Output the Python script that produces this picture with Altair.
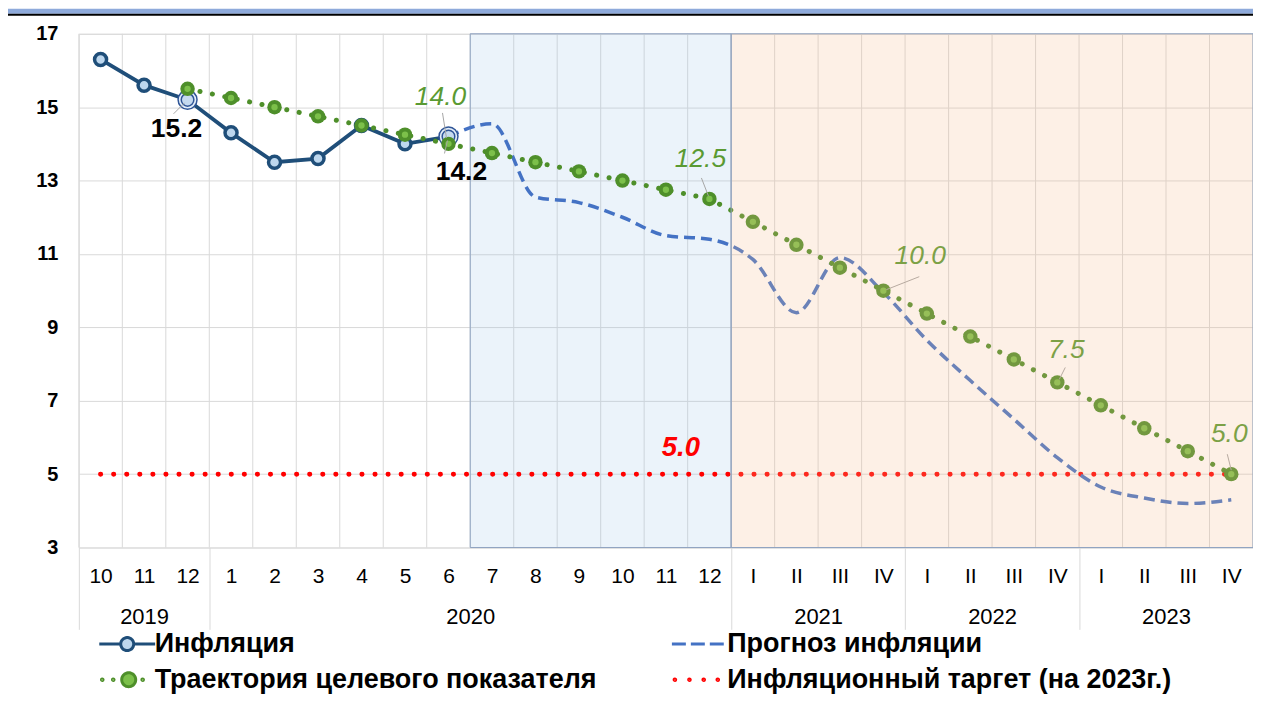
import json
import altair as alt
import pandas as pd

FONT = "Liberation Sans"

# ---------------- data ----------------
x_labels = ["10", "11", "12", "1", "2", "3", "4", "5", "6", "7", "8", "9", "10", "11", "12",
            "I", "II", "III", "IV", "I", "II", "III", "IV", "I", "II", "III", "IV"]
years = ["2019", "2020", "2021", "2022", "2023"]
year_first_idx = [0, 3, 15, 19, 23]          # first category of each year
year_last_idx = [2, 14, 18, 22, 26]          # last category of each year

inflation_start = 0
inflation = [16.3, 15.6, 15.2, 14.3, 13.5, 13.6, 14.5, 14.0, 14.2]

trajectory_start = 2
trajectory = [15.5, 15.25, 15.0, 14.75, 14.5, 14.25, 14.0, 13.75, 13.5, 13.25, 13.0, 12.75, 12.5,
              11.875, 11.25, 10.625, 10.0, 9.375, 8.75, 8.125, 7.5, 6.875, 6.25, 5.625, 5.0]

forecast_start = 8
forecast = [14.2, 14.55, 12.55, 12.4, 12.0, 11.5, 11.4, 10.85, 9.4, 10.9, 9.95, 8.65, 7.55,
            6.5, 5.45, 4.65, 4.35, 4.2, 4.3]

target_value = 5.0

# legend order (column-major: left column first)
series_names = ["Инфляция", "Траектория целевого показателя", "Прогноз инфляции",
                "Инфляционный таргет (на 2023г.)"]

blue_region = (9, 15)     # category index range (7..12 of 2020)
peach_region = (15, 27)   # 2021..2023 quarters

y_ticks = [3, 5, 7, 9, 11, 13, 15, 17]
Y_MIN, Y_MAX = 3, 17
N = len(x_labels)

# ---------------- frames ----------------
def centers(start, n):
    return [start + i + 0.5 for i in range(n)]

infl_df = pd.DataFrame({"x": centers(inflation_start, len(inflation)), "y": inflation})
traj_df = pd.DataFrame({"x": centers(trajectory_start, len(trajectory)), "y": trajectory})
fc_df = pd.DataFrame({"x": centers(forecast_start, len(forecast)), "y": forecast})
hl_idx = [2, 8]
hl_df = pd.DataFrame({"x": [i + 0.5 for i in hl_idx], "y": [inflation[i - inflation_start] for i in hl_idx]})
grid_df = pd.DataFrame({"b": list(range(N + 1)), "lo": Y_MIN, "hi": Y_MAX})
tgt_df = pd.DataFrame({"x": [0.5], "x2": [N - 0.5], "y": [target_value]})
blue_df = pd.DataFrame({"a": [blue_region[0]], "b": [blue_region[1]], "lo": [Y_MIN], "hi": [Y_MAX]})
peach_df = pd.DataFrame({"a": [peach_region[0]], "b": [peach_region[1]], "lo": [Y_MIN], "hi": [Y_MAX]})
year_centers = [(f + l + 1) / 2 for f, l in zip(year_first_idx, year_last_idx)]
year_df = pd.DataFrame({"c": year_centers})
sep_values = [0] + [l + 1 for l in year_last_idx]
sep_df = pd.DataFrame({"b": sep_values})
legend_df = pd.DataFrame({"series": series_names})

# ---------------- scales / axes ----------------
xscale = alt.Scale(domain=[0, N], nice=False, zero=False)
yscale = alt.Scale(domain=[Y_MIN, Y_MAX], nice=False, zero=False)

x_axis = alt.Axis(values=[i + 0.5 for i in range(N)],
                  labelExpr=f"{json.dumps(x_labels)}[floor(datum.value)]",
                  grid=False, ticks=False, domain=False, labelFontSize=21, labelColor="#000000",
                  labelPadding=18, title=None, labelFlush=False, labelOverlap=False, labelFont=FONT)
y_axis = alt.Axis(values=y_ticks, grid=True, gridColor="#D9D9D9", gridWidth=1, ticks=False,
                  domain=False, labelFontSize=20, labelFontWeight="bold", labelColor="#000000",
                  labelPadding=21, title=None, labelFont=FONT)

X = lambda f: alt.X(f, type="quantitative", scale=xscale, axis=x_axis)
Y = lambda f: alt.Y(f, type="quantitative", scale=yscale, axis=y_axis)

base = lambda df: alt.Chart(df)

layers = []
# vertical grid lines at category boundaries
layers.append(base(grid_df).mark_rule(color="#D9D9D9", strokeWidth=1).encode(
    x=X("b"), y=Y("lo"), y2="hi"))
# blue (2020 H2) region
layers.append(base(blue_df).mark_rect(fill="#9DC3E6", fillOpacity=0.2, stroke="#8FA3C0",
                                      strokeWidth=1).encode(x=X("a"), x2="b", y=Y("lo"), y2="hi"))
# target line
layers.append(base(tgt_df).mark_rule(color="#FF0000", strokeWidth=5, strokeDash=[0.1, 13],
                                     strokeCap="round").encode(x=X("x"), x2="x2", y=Y("y")))
# inflation line
layers.append(base(infl_df).mark_line(color="#1F4E79", strokeWidth=3.8).encode(x=X("x"), y=Y("y")))
# forecast
layers.append(base(fc_df).mark_line(color="#4472C4", strokeWidth=3.5, strokeDash=[11, 6],
                                    interpolate="monotone").encode(x=X("x"), y=Y("y")))
# inflation markers
layers.append(base(infl_df).mark_point(shape="circle", size=145, filled=False, fill="#BDD7EE",
                                       fillOpacity=1, stroke="#1F4E79", strokeWidth=3.5, opacity=1)
              .encode(x=X("x"), y=Y("y")))
layers.append(base(hl_df).mark_point(shape="circle", size=360, filled=False, fill="#E3EEF9",
                                     fillOpacity=1, stroke="#2F5597", strokeWidth=1.5, opacity=1)
              .encode(x=X("x"), y=Y("y")))
layers.append(base(hl_df).mark_point(shape="circle", size=160, filled=False, fill="#C5DAF0",
                                     fillOpacity=1, stroke="#2F5597", strokeWidth=1.5, opacity=1)
              .encode(x=X("x"), y=Y("y")))
# trajectory
layers.append(base(traj_df).mark_line(color="#4E8F2A", strokeWidth=5, strokeDash=[0.1, 12.6],
                                      strokeCap="round").encode(x=X("x"), y=Y("y")))
layers.append(base(traj_df).mark_point(shape="circle", size=210, filled=True, color="#4E8F2A",
                                       opacity=1).encode(x=X("x"), y=Y("y")))
layers.append(base(traj_df).mark_point(shape="circle", size=40, filled=True, color="#7CC04A",
                                       opacity=1).encode(x=X("x"), y=Y("y")))

# annotations: (x index, value, color, style, weight, size, dx, dy, leader offsets)
GREEN_TXT = "#5A9A32"
annots = [
    (2, inflation[2 - inflation_start], "#000000", "normal", "bold", 26.5, -11, 29, (-14, 14, -3, 3)),
    (8, inflation[8 - inflation_start], "#000000", "normal", "bold", 26.5, 13, 36, (-4, 17, -1, 4)),
    (8, trajectory[8 - trajectory_start], GREEN_TXT, "italic", "normal", 26.5, -8, -47, (-6, -31, -2, -6)),
    (14, trajectory[14 - trajectory_start], GREEN_TXT, "italic", "normal", 26.5, -9, -40, (-8, -21, -1, -3)),
    (18, trajectory[18 - trajectory_start], GREEN_TXT, "italic", "normal", 26.5, 37, -35, (36, -14, 3, -1)),
    (22, trajectory[22 - trajectory_start], GREEN_TXT, "italic", "normal", 26.5, 9, -32, (8, -15, 2, -3)),
    (26, trajectory[26 - trajectory_start], GREEN_TXT, "italic", "normal", 26.5, -2, -40, (-4, -20, 0, -4)),
    (13, target_value, "#FF0000", "italic", "bold", 27.5, 15, -26, None),
]
for idx, val, col, style, weight, size, dx, dy, lead in annots:
    df = pd.DataFrame({"x": [idx + 0.5], "y": [val], "t": [f"{val:.1f}"]})
    if lead is not None:
        layers.append(base(df).mark_rule(color="#A6A6A6", strokeWidth=1, xOffset=lead[0],
                                         yOffset=lead[1], x2Offset=lead[2], y2Offset=lead[3])
                      .encode(x=X("x"), x2="x", y=Y("y"), y2="y"))
    layers.append(base(df).mark_text(color=col, fontStyle=style, fontWeight=weight, fontSize=size,
                                     font=FONT, dx=dx, dy=dy, align="center", baseline="middle")
                  .encode(x=X("x"), y=Y("y"), text="t:N"))

# peach region overlay (on top)
layers.append(base(peach_df).mark_rect(fill="#F6BB8D", fillOpacity=0.22, stroke="#8FA3C0",
                                       strokeWidth=1).encode(x=X("a"), x2="b", y=Y("lo"), y2="hi"))

# decorative title band (cut-off header of the original)
band_df = pd.DataFrame({"k": [0]})
layers.append(base(band_df).mark_rect(fill="#8EAADB").encode(
    x=alt.value(-71), x2=alt.value(1177), y=alt.value(-25), y2=alt.value(-20)))
layers.append(base(band_df).mark_rect(fill="#000000").encode(
    x=alt.value(-71), x2=alt.value(1177), y=alt.value(-20), y2=alt.value(-18)))

# legend (driven by series names); symbol unit = 10 px (symbolSize 400)
def circ(cx, r):
    return (f"M{cx + r:.3f},0A{r},{r},0,1,1,{cx - r:.3f},0"
            f"A{r},{r},0,1,1,{cx + r:.3f},0Z")

shape_inf = "M-2.8,0L-0.65,0M0.65,0L2.8,0" + circ(0, 0.65)
shape_fc = "M-2.8,0L2.8,0"
shape_traj = circ(-2.5, 0.08) + circ(-1.4, 0.08) + circ(1.55, 0.08) + circ(0.15, 0.7)
shape_tgt = circ(-2.5, 0.08) + circ(-1.04, 0.08) + circ(0.39, 0.08) + circ(1.8, 0.08)

leg = alt.Legend(title=None, orient="none", legendX=35, legendY=598, columns=2,
                 columnPadding=68, rowPadding=8, symbolSize=400, symbolStrokeWidth=3,
                 symbolOpacity=1, labelFontSize=27, labelFontWeight="bold", labelColor="#000000",
                 labelFont=FONT, labelOffset=14, labelLimit=700, padding=0)
layers.append(base(legend_df).transform_filter("false").mark_point(filled=False, opacity=1).encode(
    fill=alt.Fill("series:N", scale=alt.Scale(domain=series_names,
                                              range=["#BDD7EE", "#7CC04A", "transparent", "#FF0000"]),
                  legend=leg),
    stroke=alt.Stroke("series:N", scale=alt.Scale(domain=series_names,
                                                  range=["#1F4E79", "#4E8F2A", "#4472C4", "#FF0000"]),
                      legend=leg),
    shape=alt.Shape("series:N", scale=alt.Scale(domain=series_names,
                                                range=[shape_inf, shape_traj, shape_fc, shape_tgt]),
                    legend=leg),
    strokeDash=alt.StrokeDash("series:N", scale=alt.Scale(domain=series_names,
                                                          range=[[1, 0], [1, 0], [14, 5], [1, 0]]),
                              legend=leg),
))

main = alt.layer(*layers)

# year labels axis
year_axis = alt.Axis(values=year_centers,
                     labelExpr=f"{json.dumps(years)}[indexof({json.dumps(year_centers)}, datum.value)]",
                     orient="bottom", ticks=False, domain=False, grid=False, labelPadding=59,
                     labelFontSize=22, labelColor="#000000", title=None, labelOverlap=False,
                     labelFlush=False, labelFont=FONT)
year_layer = alt.Chart(year_df).mark_point(opacity=0).encode(
    x=alt.X("c:Q", scale=xscale, axis=year_axis))

# year separators
sep_axis = alt.Axis(values=sep_values, labels=False, ticks=True, tickSize=82, tickColor="#D9D9D9",
                    tickWidth=1, domain=False, grid=False, orient="bottom", title=None)
sep_layer = alt.Chart(sep_df).mark_point(opacity=0).encode(
    x=alt.X("b:Q", scale=xscale, axis=sep_axis))

chart = alt.layer(main, year_layer, sep_layer).resolve_scale(x="independent").resolve_axis(
    x="independent").properties(
    width=1177, height=515,
    padding={"left": 71, "top": 25, "right": 0, "bottom": 150},
    autosize=alt.AutoSizeParams(type="none"),
    background="white",
).configure_view(stroke=None).configure(font=FONT)

chart.save("out.html", embed_options={"renderer": "svg", "actions": False})
